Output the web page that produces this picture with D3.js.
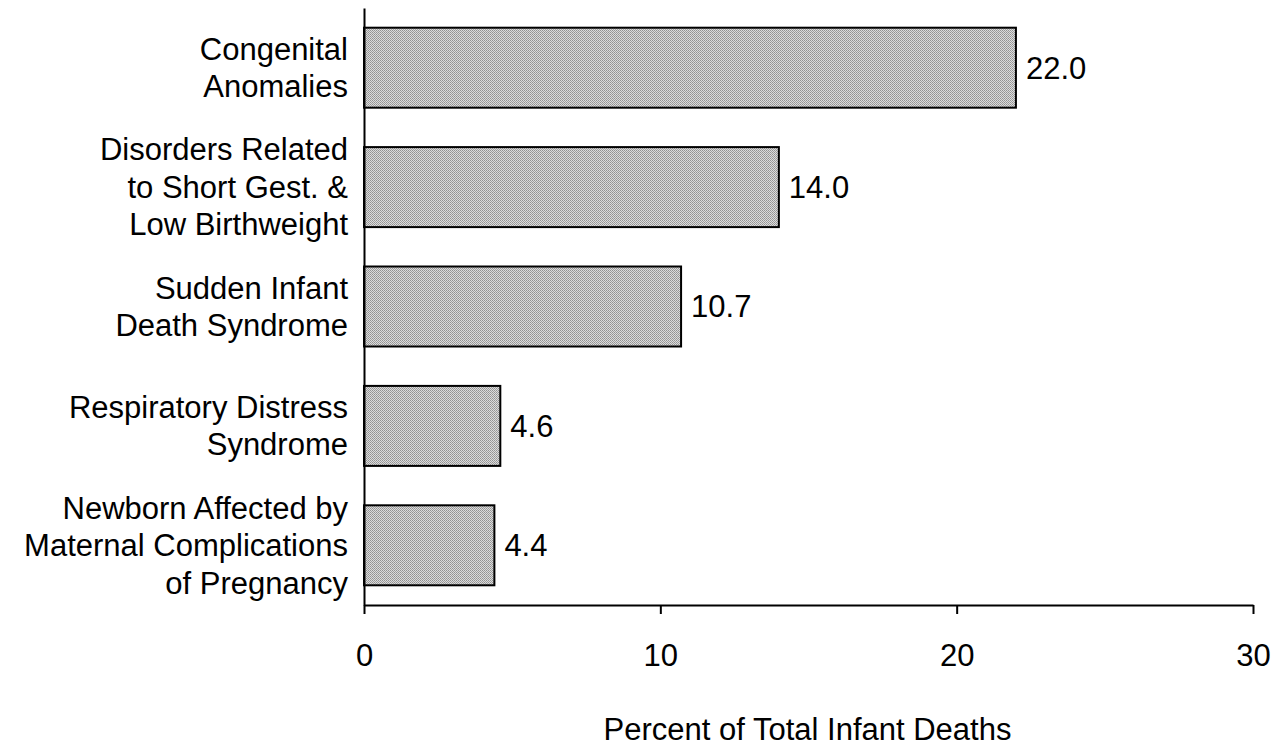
<!DOCTYPE html>
<html>
<head>
<meta charset="utf-8">
<script src="https://cdn.jsdelivr.net/npm/d3@7"></script>
<style>
  body { margin: 0; background: #fff; }
  text { font-family: "Liberation Sans", Arial, sans-serif; fill: #000; }
</style>
</head>
<body>
<div class="chart"></div>
<script>
const categories = [
  ['Congenital', 'Anomalies'],
  ['Disorders Related', 'to Short Gest. &', 'Low Birthweight'],
  ['Sudden Infant', 'Death Syndrome'],
  ['Respiratory Distress', 'Syndrome'],
  ['Newborn Affected by', 'Maternal Complications', 'of Pregnancy']
];
const values = [22.0, 14.0, 10.7, 4.6, 4.4];
const xTicks = [0, 10, 20, 30];
const xTitle = 'Percent of Total Infant Deaths';

let margin = { top: 8, right: 24, bottom: 141, left: 364 };
let width = 1277 - margin.left - margin.right;
let height = 746 - margin.top - margin.bottom;
let fontSize = '31px';

let svg = d3
  .select('.chart')
  .append('svg')
  .attr('width', 1277)
  .attr('height', 746);

// dithered grey fill like the scanned original
let defs = svg.append('defs');
let pat = defs.append('pattern')
  .attr('id', 'dither')
  .attr('width', 2)
  .attr('height', 2)
  .attr('patternUnits', 'userSpaceOnUse');
pat.append('rect').attr('width', 2).attr('height', 2).attr('fill', '#dcdcdc');
pat.append('rect').attr('width', 1).attr('height', 1).attr('fill', '#929292');
pat.append('rect').attr('x', 1).attr('y', 1).attr('width', 1).attr('height', 1).attr('fill', '#a0a0a0');

let g = svg.append('g').attr('transform', `translate(${margin.left}, ${margin.top})`);

let xScale = d3.scaleLinear().domain([0, 30]).range([0, width]);
let yScale = d3.scaleBand()
  .domain(d3.range(values.length))
  .range([0, height])
  .paddingInner(0.33)
  .paddingOuter(0.165);

g.selectAll('.bar')
  .data(values)
  .enter()
  .append('rect')
  .attr('class', 'bar')
  .attr('x', xScale(0))
  .attr('y', (d, i) => yScale(i))
  .attr('width', d => xScale(d))
  .attr('height', yScale.bandwidth())
  .attr('fill', 'url(#dither)')
  .attr('stroke', '#000')
  .attr('stroke-width', 2);

g.selectAll('.val')
  .data(values)
  .enter()
  .append('text')
  .attr('class', 'val')
  .attr('x', d => xScale(d) + 10)
  .attr('y', (d, i) => yScale(i) + yScale.bandwidth() / 2)
  .attr('dy', '0.35em')
  .style('font-size', fontSize)
  .text(d => d3.format('.1f')(d));

// category labels, multi-line, right aligned
let labels = g.selectAll('.cat')
  .data(categories)
  .enter()
  .append('text')
  .attr('class', 'cat')
  .attr('text-anchor', 'end')
  .style('font-size', fontSize)
  .attr('transform', (d, i) => `translate(-16, ${yScale(i) + yScale.bandwidth() / 2})`);

labels.selectAll('tspan')
  .data(d => d.map((t, j) => ({ t, j, n: d.length })))
  .enter()
  .append('tspan')
  .attr('x', 0)
  .attr('y', d => (d.j - (d.n - 1) / 2) * 37.5)
  .attr('dy', '0.35em')
  .text(d => d.t);

// axes
let xAxis = g.append('g')
  .attr('transform', `translate(0,${height})`)
  .call(d3.axisBottom(xScale).tickValues(xTicks).tickSize(9).tickPadding(30).tickSizeOuter(0));
xAxis.select('.domain').attr('stroke-width', 2);
xAxis.selectAll('line').attr('stroke-width', 2);
xAxis.selectAll('text').style('font-size', fontSize).style('font-family', '"Liberation Sans", Arial, sans-serif');

let yAxis = g.append('g')
  .call(d3.axisLeft(yScale).tickValues([]).tickSizeOuter(0));
yAxis.select('.domain').attr('stroke-width', 2);

g.append('text')
  .attr('x', width / 2 - 1)
  .attr('y', height + 135)
  .attr('text-anchor', 'middle')
  .style('font-size', fontSize)
  .text(xTitle);
</script>
</body>
</html>
